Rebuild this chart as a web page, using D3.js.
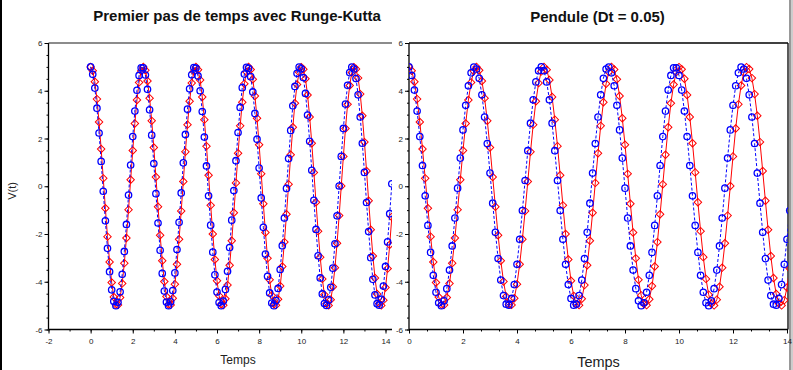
<!DOCTYPE html>
<html>
<head>
<meta charset="utf-8">
<script src="https://cdnjs.cloudflare.com/ajax/libs/d3/7.8.5/d3.min.js"></script>
<style>
  body { margin: 0; background: #fff; }
  svg { display: block; font-family: "Liberation Sans", Arial, sans-serif; }
</style>
</head>
<body>
<div id="chart"></div>
<script>

// time samples (one marker every 0.1)
var times = [0,0.1,0.2,0.3,0.4,0.5,0.6,0.7,0.8,0.9,1,1.1,1.2,1.3,1.4,1.5,1.6,1.7,1.8,1.9,
  2,2.1,2.2,2.3,2.4,2.5,2.6,2.7,2.8,2.9,3,3.1,3.2,3.3,3.4,3.5,3.6,3.7,3.8,3.9,
  4,4.1,4.2,4.3,4.4,4.5,4.6,4.7,4.8,4.9,5,5.1,5.2,5.3,5.4,5.5,5.6,5.7,5.8,5.9,
  6,6.1,6.2,6.3,6.4,6.5,6.6,6.7,6.8,6.9,7,7.1,7.2,7.3,7.4,7.5,7.6,7.7,7.8,7.9,
  8,8.1,8.2,8.3,8.4,8.5,8.6,8.7,8.8,8.9,9,9.1,9.2,9.3,9.4,9.5,9.6,9.7,9.8,9.9,
  10,10.1,10.2,10.3,10.4,10.5,10.6,10.7,10.8,10.9,11,11.1,11.2,11.3,11.4,11.5,11.6,11.7,11.8,11.9,
  12,12.1,12.2,12.3,12.4,12.5,12.6,12.7,12.8,12.9,13,13.1,13.2,13.3,13.4,13.5,13.6,13.7,13.8,13.9,
  14,14.1,14.2,14.3];

// red curve (diamonds, solid) - same in both panels
var exactV = [5.00,4.84,4.38,3.65,2.69,1.56,0.33,-0.92,-2.11,-3.17,-4.03,-4.64,-4.96,-4.97,-4.66,-4.07,-3.22,-2.17,-0.98,0.27,1.50,2.63,3.61,4.35,4.83,
  5.00,4.86,4.41,3.69,2.74,1.62,0.39,-0.86,-2.05,-3.12,-3.99,-4.62,-4.95,-4.97,-4.69,-4.10,-3.27,-2.22,-1.04,0.20,1.44,2.58,3.56,4.32,4.81,
  5.00,4.88,4.45,3.74,2.79,1.68,0.46,-0.80,-2.00,-3.07,-3.96,-4.59,-4.94,-4.98,-4.71,-4.14,-3.31,-2.28,-1.11,0.14,1.38,2.53,3.52,4.29,4.79,
  5.00,4.89,4.48,3.78,2.85,1.74,0.52,-0.73,-1.94,-3.02,-3.92,-4.57,-4.93,-4.98,-4.73,-4.18,-3.36,-2.34,-1.17,0.08,1.32,2.47,3.48,4.26,4.78,
  4.99,4.90,4.50,3.82,2.90,1.80,0.58,-0.67,-1.88,-2.97,-3.88,-4.54,-4.92,-4.99,-4.75,-4.21,-3.41,-2.39,-1.23,0.01,1.25,2.42,3.43,4.22,4.76,
  4.99,4.91,4.53,3.86,2.95,1.85,0.64,-0.61,-1.82,-2.92,-3.84,-4.51,-4.91,-4.99,-4.77,-4.24,-3.45,-2.45,-1.29];

// blue curve, left panel (circles, dashed)
var rkV = [5.00,4.69,4.11,3.27,2.23,1.04,-0.21,-1.45,-2.60,-3.58,-4.34,-4.82,-5.00,-4.86,-4.42,-3.69,-2.73,-1.60,-0.37,0.89,2.08,3.15,4.02,4.64,4.96,
  4.96,4.66,4.06,3.20,2.14,0.95,-0.31,-1.54,-2.68,-3.65,-4.39,-4.85,-5.00,-4.84,-4.37,-3.63,-2.65,-1.51,-0.28,0.98,2.17,3.23,4.08,4.67,4.97,
  4.95,4.62,4.00,3.13,2.06,0.85,-0.40,-1.63,-2.76,-3.71,-4.43,-4.87,-5.00,-4.81,-4.32,-3.56,-2.57,-1.42,-0.18,1.07,2.25,3.30,4.13,4.70,4.98,
  4.94,4.59,3.95,3.05,1.97,0.76,-0.49,-1.72,-2.84,-3.77,-4.47,-4.89,-5.00,-4.79,-4.28,-3.49,-2.49,-1.33,-0.09,1.16,2.34,3.37,4.18,4.73,4.99,
  4.92,4.55,3.89,2.98,1.88,0.67,-0.59,-1.81,-2.91,-3.84,-4.51,-4.91,-4.99,-4.76,-4.23,-3.43,-2.41,-1.24,0.01,1.25,2.42,3.44,4.23,4.76,4.99,
  4.91,4.51,3.83,2.90,1.80,0.58,-0.68,-1.90,-2.99,-3.90,-4.55,-4.92,-4.98,-4.73,-4.18,-3.36,-2.33,-1.15,0.10];

// blue curve, right panel (Dt = 0.05)
var pendV = [5.00,4.64,4.03,3.15,2.08,0.87,-0.40,-1.64,-2.77,-3.73,-4.44,-4.88,-5.00,-4.80,-4.29,-3.51,-2.50,-1.33,-0.08,1.18,2.36,3.39,4.21,4.75,4.99,
  4.91,4.52,3.83,2.90,1.79,0.55,-0.71,-1.93,-3.03,-3.93,-4.58,-4.94,-4.98,-4.70,-4.12,-3.27,-2.22,-1.02,0.24,1.49,2.64,3.62,4.37,4.84,5.00,
  4.84,4.37,3.62,2.64,1.49,0.24,-1.02,-2.22,-3.27,-4.12,-4.70,-4.98,-4.94,-4.58,-3.93,-3.03,-1.93,-0.71,0.55,1.79,2.90,3.83,4.52,4.91,4.99,
  4.75,4.21,3.39,2.36,1.18,-0.08,-1.33,-2.50,-3.51,-4.29,-4.80,-5.00,-4.88,-4.44,-3.73,-2.77,-1.64,-0.40,0.87,2.08,3.15,4.03,4.64,4.96,4.96,
  4.64,4.03,3.15,2.08,0.87,-0.40,-1.64,-2.77,-3.73,-4.44,-4.88,-5.00,-4.80,-4.29,-3.51,-2.50,-1.33,-0.08,1.18,2.36,3.39,4.21,4.75,4.99,4.91,
  4.52,3.83,2.90,1.79,0.55,-0.71,-1.93,-3.03,-3.93,-4.58,-4.94,-4.98,-4.70,-4.12,-3.27,-2.22,-1.02,0.24,1.49];

var xTicksLeft = [-2,0,2,4,6,8,10,12,14];
var xTicksRight = [0,2,4,6,8,10,12,14];
var yTicks = [-6,-4,-2,0,2,4,6];

var W = 793, H = 370;

var svg = d3.select("#chart").append("svg")
    .attr("width", W)
    .attr("height", H);

svg.append("rect").attr("width", W).attr("height", H).attr("fill", "#fff");

// window borders
svg.append("rect").attr("x", 0).attr("y", 0).attr("width", 2).attr("height", H).attr("fill", "#000");
svg.append("rect").attr("x", 789).attr("y", 0).attr("width", 2).attr("height", H).attr("fill", "#999");
svg.append("rect").attr("x", 791).attr("y", 0).attr("width", 2).attr("height", H).attr("fill", "#ccc");


/*
 * PendulePanel - one subplot (red exact curve + blue numerical curve)
 */
PendulePanel = function(_id, _cfg, _blue){
    this.id = _id;
    this.cfg = _cfg;
    this.blue = _blue;
    this.initVis();
};

PendulePanel.prototype.initVis = function(){
    var vis = this;
    var c = vis.cfg;

    vis.top = 43;
    vis.bottom = 329.5;

    vis.x = d3.scaleLinear().domain(c.xDomain).range([c.left, c.xEnd]);
    vis.y = d3.scaleLinear().domain([-6, 6]).range([vis.bottom, vis.top]);

    vis.g = svg.append("g").attr("class", "panel-" + vis.id);

    vis.g.append("defs").append("clipPath")
        .attr("id", "clip-" + vis.id)
        .append("rect")
        .attr("x", c.left)
        .attr("y", vis.top)
        .attr("width", c.clipRight - c.left)
        .attr("height", vis.bottom - vis.top);

    // box
    vis.g.append("line")
        .attr("x1", c.left).attr("x2", c.clipRight)
        .attr("y1", vis.top).attr("y2", vis.top)
        .attr("stroke", c.topColor).attr("stroke-width", 1.3);
    if (c.rightBorder) {
        vis.g.append("line")
            .attr("x1", c.clipRight).attr("x2", c.clipRight)
            .attr("y1", vis.top).attr("y2", vis.bottom)
            .attr("stroke", "#000").attr("stroke-width", 1.3);
    }

    // minor ticks
    var xMinor = d3.axisBottom(vis.x)
        .tickValues(d3.range(c.xDomain[0], c.xDomain[1] + 0.001, c.xMinorStep))
        .tickSize(2).tickFormat("");
    var yMinor = d3.axisLeft(vis.y)
        .tickValues(d3.range(-6, 6.001, 0.5))
        .tickSize(2).tickFormat("");

    vis.g.append("g")
        .attr("transform", "translate(0," + vis.bottom + ")")
        .call(xMinor)
        .call(function(g){ g.select(".domain").remove(); });
    vis.g.append("g")
        .attr("transform", "translate(" + c.left + ",0)")
        .call(yMinor)
        .call(function(g){ g.select(".domain").remove(); });

    // major ticks + labels
    vis.xAxis = d3.axisBottom(vis.x)
        .tickValues(c.xTicks)
        .tickSize(4).tickPadding(5)
        .tickFormat(function(d){ return String(d); });
    vis.yAxis = d3.axisLeft(vis.y)
        .tickValues(yTicks)
        .tickSize(4).tickPadding(2)
        .tickFormat(function(d){ return String(d); });

    vis.g.append("g")
        .attr("class", "x-axis axis")
        .attr("transform", "translate(0," + vis.bottom + ")")
        .call(vis.xAxis)
        .call(function(g){ g.select(".domain").remove(); });
    vis.g.append("g")
        .attr("class", "y-axis axis")
        .attr("transform", "translate(" + c.left + ",0)")
        .call(vis.yAxis)
        .call(function(g){ g.select(".domain").remove(); });

    vis.g.selectAll(".axis text")
        .attr("font-family", "'Liberation Sans', Arial, sans-serif")
        .attr("font-size", 8)
        .attr("fill", "#222");
    vis.g.selectAll(".tick line").attr("stroke", "#000");

    // axis lines
    vis.g.append("line")
        .attr("x1", c.left).attr("x2", c.clipRight)
        .attr("y1", vis.bottom).attr("y2", vis.bottom)
        .attr("stroke", "#000").attr("stroke-width", 1.3);
    vis.g.append("line")
        .attr("x1", c.left).attr("x2", c.left)
        .attr("y1", vis.top).attr("y2", vis.bottom)
        .attr("stroke", "#000").attr("stroke-width", 1.3);

    // titles
    vis.g.append("text")
        .attr("x", c.titleX).attr("y", c.titleY)
        .attr("text-anchor", "middle")
        .attr("font-weight", "bold")
        .attr("font-size", 15)
        .attr("fill", "#111")
        .text(c.title);

    vis.g.append("text")
        .attr("x", c.xLabelX).attr("y", c.xLabelY)
        .attr("text-anchor", "middle")
        .attr("font-size", c.xLabelSize)
        .attr("fill", "#222")
        .text("Temps");

    if (c.yLabel) {
        vis.g.append("text")
            .attr("transform", "translate(16,191) rotate(-90)")
            .attr("text-anchor", "middle")
            .attr("font-size", 11)
            .attr("fill", "#222")
            .text(c.yLabel);
    }

    vis.wrangleData();
};

PendulePanel.prototype.wrangleData = function(){
    var vis = this;
    vis.redData = times.map(function(t, i){ return { t: t, v: exactV[i] }; });
    vis.blueData = times.map(function(t, i){ return { t: t, v: vis.blue[i] }; });
    vis.updateVis();
};

PendulePanel.prototype.updateVis = function(){
    var vis = this;

    var line = d3.line()
        .x(function(d){ return vis.x(d.t); })
        .y(function(d){ return vis.y(d.v); });

    var plot = vis.g.append("g").attr("clip-path", "url(#clip-" + vis.id + ")");

    plot.append("path")
        .attr("d", line(vis.redData))
        .attr("fill", "none")
        .attr("stroke", "#ff0000")
        .attr("stroke-width", 1);

    var diamond = d3.symbol().type(d3.symbolSquare).size(28);
    plot.selectAll(".diamond")
        .data(vis.redData)
        .enter().append("path")
        .attr("class", "diamond")
        .attr("d", diamond)
        .attr("transform", function(d){ return "translate(" + vis.x(d.t) + "," + vis.y(d.v) + ") rotate(45)"; })
        .attr("fill", "none")
        .attr("stroke", "#ff0000")
        .attr("stroke-width", 1);

    plot.append("path")
        .attr("d", line(vis.blueData))
        .attr("fill", "none")
        .attr("stroke", "#0000ff")
        .attr("stroke-width", 1)
        .attr("stroke-dasharray", "3,2");

    plot.selectAll(".circ")
        .data(vis.blueData)
        .enter().append("circle")
        .attr("class", "circ")
        .attr("cx", function(d){ return vis.x(d.t); })
        .attr("cy", function(d){ return vis.y(d.v); })
        .attr("r", 3.2)
        .attr("fill", "none")
        .attr("stroke", "#0000ff")
        .attr("stroke-width", 1.3);
};


var leftPanel = new PendulePanel("left", {
    xDomain: [-2, 14], left: 48.5, xEnd: 385.5, clipRight: 392,
    xTicks: xTicksLeft, xMinorStep: 1,
    topColor: "#666", rightBorder: false,
    title: "Premier pas de temps avec Runge-Kutta", titleX: 237, titleY: 21,
    xLabelX: 238, xLabelY: 364, xLabelSize: 12,
    yLabel: "V(t)"
}, rkV);

var rightPanel = new PendulePanel("right", {
    xDomain: [0, 14], left: 409, xEnd: 787, clipRight: 788,
    xTicks: xTicksRight, xMinorStep: 2 / 3,
    topColor: "#000", rightBorder: true,
    title: "Pendule (Dt = 0.05)", titleX: 597.5, titleY: 22,
    xLabelX: 598.5, xLabelY: 367, xLabelSize: 14.5,
    yLabel: null
}, pendV);

</script>
</body>
</html>
